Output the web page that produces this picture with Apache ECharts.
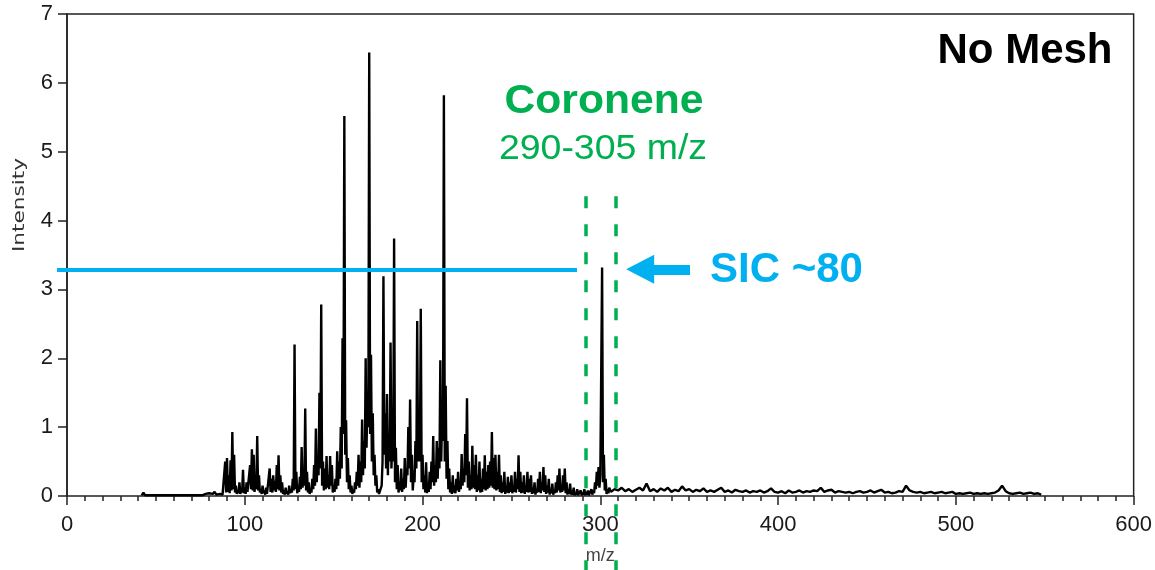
<!DOCTYPE html>
<html>
<head>
<meta charset="utf-8">
<title>Mass spectrum - No Mesh</title>
<script src="https://cdn.jsdelivr.net/npm/echarts@6/dist/echarts.min.js"></script>
<style>
  html, body { margin: 0; padding: 0; background: #fff; }
  #chart { width: 1155px; height: 570px; }
</style>
</head>
<body>
<div id="chart"></div>
<script>
// start of the trace, m/z 42-85 (almost flat)
var lowMz  = [42, 43, 44, 60, 76, 78, 79, 80, 81, 82, 83, 84, 85];
var lowInt = [0.01, 0.05, 0.01, 0.01, 0.01, 0.03, 0.04, 0.04, 0.02, 0.03, 0.06, 0.02, 0.03];

// main cluster, one value per unit mass from m/z 86 to 305
var clusterStart = 86;
var clusterInt = [
  0.03, 0.04, 0.02, 0.50, 0.55, 0.30, 0.52, 0.93, 0.60, 0.15,   // 86-95
  0.08, 0.20, 0.10, 0.38, 0.12, 0.20, 0.08, 0.45, 0.68, 0.60,   // 96-105
  0.25, 0.87, 0.30, 0.10, 0.15, 0.08, 0.12, 0.05, 0.40, 0.25,   // 106-115
  0.30, 0.22, 0.45, 0.59, 0.30, 0.20, 0.08, 0.12, 0.06, 0.15,   // 116-125
  0.10, 0.25, 2.20, 0.35, 0.15, 0.28, 0.71, 0.40, 1.27, 0.35,   // 126-135
  0.20, 0.10, 0.25, 0.45, 0.98, 0.60, 1.50, 2.78, 0.50, 0.40,   // 136-145
  0.58, 0.30, 0.58, 0.45, 0.15, 0.25, 0.65, 0.50, 1.00, 2.29,   // 146-155
  5.52, 1.10, 0.55, 0.30, 0.15, 0.08, 0.20, 0.35, 0.60, 0.50,   // 156-165
  1.11, 0.80, 2.00, 1.50, 6.44, 2.05, 1.20, 0.60, 0.30, 0.10,   // 166-175
  0.05, 0.15, 3.19, 1.20, 1.48, 0.90, 2.23, 0.80, 3.74, 0.70,   // 176-185
  0.45, 0.20, 0.40, 0.25, 0.55, 0.40, 1.00, 1.40, 0.60, 0.30,   // 186-195
  0.80, 2.54, 1.20, 2.72, 0.60, 0.30, 0.49, 0.20, 0.35, 0.50,   // 196-205
  0.87, 0.45, 0.80, 0.70, 1.97, 1.20, 5.82, 1.60, 0.80, 0.40,   // 206-215
  0.20, 0.30, 0.15, 0.25, 0.35, 0.20, 0.61, 0.40, 0.90, 1.42,   // 216-225
  0.50, 0.30, 0.73, 0.45, 0.60, 0.30, 0.50, 0.25, 0.40, 0.59,   // 226-235
  0.35, 0.45, 0.50, 0.93, 0.55, 0.60, 0.35, 0.60, 0.30, 0.20,   // 236-245
  0.35, 0.15, 0.28, 0.20, 0.30, 0.15, 0.35, 0.25, 0.59, 0.35,   // 246-255
  0.20, 0.30, 0.15, 0.35, 0.25, 0.30, 0.12, 0.20, 0.10, 0.25,   // 256-265
  0.35, 0.20, 0.42, 0.30, 0.15, 0.25, 0.10, 0.18, 0.08, 0.20,   // 266-275
  0.30, 0.40, 0.15, 0.30, 0.40, 0.20, 0.10, 0.18, 0.08, 0.12,   // 276-285
  0.05, 0.10, 0.04, 0.08, 0.05, 0.10, 0.06, 0.08, 0.04, 0.10,   // 286-295
  0.08, 0.20, 0.35, 0.42, 0.30, 3.32, 0.60, 0.25, 0.10, 0.12    // 296-305
];
// dips between unit masses, at m/z 86.5 to 304.5
var clusterValley = [
  0.02, 0.02, 0.02, 0.05, 0.06, 0.04, 0.08, 0.10, 0.05, 0.03,   // 86.5-95.5
  0.04, 0.03, 0.05, 0.04, 0.03, 0.06, 0.04, 0.10, 0.08, 0.06,   // 96.5-105.5
  0.10, 0.08, 0.05, 0.03, 0.04, 0.02, 0.03, 0.02, 0.06, 0.05,   // 106.5-115.5
  0.08, 0.06, 0.10, 0.08, 0.05, 0.03, 0.02, 0.03, 0.02, 0.04,   // 116.5-125.5
  0.05, 0.08, 0.10, 0.04, 0.06, 0.10, 0.12, 0.15, 0.08, 0.05,   // 126.5-135.5
  0.03, 0.05, 0.10, 0.15, 0.20, 0.30, 0.40, 0.15, 0.08, 0.10,   // 136.5-145.5
  0.12, 0.10, 0.15, 0.05, 0.06, 0.10, 0.15, 0.25, 0.40, 0.90,   // 146.5-155.5
  0.60, 0.20, 0.10, 0.05, 0.03, 0.05, 0.10, 0.15, 0.12, 0.20,   // 156.5-165.5
  0.30, 0.40, 0.70, 1.00, 0.90, 0.50, 0.30, 0.15, 0.05, 0.03,   // 166.5-175.5
  0.05, 0.50, 0.60, 0.40, 0.30, 0.50, 0.40, 0.50, 0.20, 0.10,   // 176.5-185.5
  0.05, 0.08, 0.06, 0.10, 0.12, 0.30, 0.40, 0.20, 0.08, 0.20,   // 186.5-195.5
  0.40, 0.50, 0.50, 0.20, 0.10, 0.05, 0.04, 0.06, 0.10, 0.20,   // 196.5-205.5
  0.15, 0.20, 0.25, 0.40, 0.50, 0.80, 0.50, 0.25, 0.10, 0.05,   // 206.5-215.5
  0.03, 0.05, 0.04, 0.08, 0.06, 0.10, 0.15, 0.20, 0.30, 0.12,   // 216.5-225.5
  0.08, 0.10, 0.12, 0.10, 0.06, 0.08, 0.05, 0.06, 0.10, 0.08,   // 226.5-235.5
  0.10, 0.12, 0.15, 0.12, 0.10, 0.08, 0.10, 0.06, 0.04, 0.06,   // 236.5-245.5
  0.03, 0.05, 0.04, 0.06, 0.04, 0.06, 0.05, 0.10, 0.06, 0.04,   // 246.5-255.5
  0.05, 0.03, 0.06, 0.05, 0.06, 0.03, 0.04, 0.02, 0.05, 0.06,   // 256.5-265.5
  0.04, 0.08, 0.06, 0.03, 0.05, 0.02, 0.04, 0.02, 0.04, 0.05,   // 266.5-275.5
  0.08, 0.05, 0.06, 0.08, 0.04, 0.02, 0.03, 0.02, 0.02, 0.01,   // 276.5-285.5
  0.02, 0.01, 0.02, 0.01, 0.02, 0.01, 0.02, 0.01, 0.02, 0.02,   // 286.5-295.5
  0.04, 0.10, 0.15, 0.12, 0.30, 0.20, 0.08, 0.03, 0.04          // 296.5-304.5
];

// high mass tail, every 2 units from m/z 306 to 548
var tailStart = 306;
var tailStep = 2;
var tailInt = [
  0.06, 0.10, 0.08, 0.12, 0.07, 0.10, 0.06, 0.09, 0.12, 0.08,
  0.18, 0.07, 0.10, 0.06, 0.11, 0.08, 0.12, 0.06, 0.09, 0.07,
  0.14, 0.08, 0.10, 0.06, 0.09, 0.07, 0.11, 0.06, 0.08, 0.06,
  0.09, 0.12, 0.06, 0.08, 0.05, 0.09, 0.07, 0.06, 0.08, 0.05,
  0.07, 0.06, 0.08, 0.05, 0.07, 0.11, 0.06, 0.05, 0.07, 0.04,
  0.08, 0.05, 0.06, 0.08, 0.05, 0.07, 0.06, 0.08, 0.07, 0.12,
  0.06, 0.08, 0.09, 0.05, 0.07, 0.06, 0.05, 0.06, 0.04, 0.06,
  0.07, 0.05, 0.06, 0.08, 0.05, 0.07, 0.09, 0.05, 0.06, 0.04,
  0.05, 0.07, 0.06, 0.15, 0.08, 0.06, 0.05, 0.06, 0.04, 0.05,
  0.06, 0.04, 0.05, 0.06, 0.04, 0.05, 0.06, 0.03, 0.04, 0.03,
  0.04, 0.05, 0.03, 0.04, 0.03, 0.04, 0.03, 0.04, 0.05, 0.08,
  0.15, 0.07, 0.04, 0.03, 0.04, 0.05, 0.03, 0.04, 0.05, 0.03,
  0.04, 0.02
];

// annotations (data units)
var sicLevel = 3.3;             // blue SIC line
var sicLineMz = [-5.6, 286.5];  // blue line runs a bit left of the axis
var arrowMz = [350, 322];       // arrow shaft, head sits at the end
var windowMz = [291.6, 308.4];  // green dashed window
var windowTop = 4.36;

// layout of the plot box in px
var W = 1155, H = 570;
var GL = 67, GR = 1135, GT = 14, GB = 497;
var X_MAX = 600, Y_MAX = 7;
var pxX = X_MAX / (GR - GL);
var pxY = Y_MAX / (GB - GT);
var ovXMin = -GL * pxX, ovXMax = X_MAX + (W - GR) * pxX;
var ovYMin = -(H - GB) * pxY, ovYMax = Y_MAX + GT * pxY;

var spectrum = [];
lowMz.forEach(function (m, i) { spectrum.push([m, lowInt[i]]); });
clusterInt.forEach(function (v, i) {
  spectrum.push([clusterStart + i, v]);
  if (i < clusterValley.length) spectrum.push([clusterStart + i + 0.5, clusterValley[i]]);
});
tailInt.forEach(function (v, i) { spectrum.push([tailStart + i * tailStep, v]); });

var green = '#00b050';
var blue = '#00b0f0';
var tickFont = 'Liberation Sans';

var chart = echarts.init(document.getElementById('chart'), null, { renderer: 'canvas' });

var option = {
  animation: false,
  backgroundColor: '#fff',
  grid: [
    { left: GL, right: W - GR, top: GT, bottom: H - GB, show: true,
      borderColor: '#222', borderWidth: 1.5, backgroundColor: 'transparent' },
    { left: 0, right: 0, top: 0, bottom: 0 }
  ],
  xAxis: [
    {
      type: 'value', gridIndex: 0, min: 0, max: X_MAX, interval: 100, offset: 5,
      name: 'm/z', nameLocation: 'middle', nameGap: 46,
      nameTextStyle: { fontFamily: tickFont, fontSize: 18, color: '#444' },
      axisLine: { show: false },
      axisTick: { show: true, length: 9, lineStyle: { color: '#222', width: 1.5 } },
      minorTick: { show: true, splitNumber: 10, length: 5, lineStyle: { color: '#222', width: 1.5 } },
      splitLine: { show: false },
      minorSplitLine: { show: false },
      axisLabel: { margin: 13, fontFamily: tickFont, fontSize: 22, color: '#1a1a1a',
                   showMinLabel: true, showMaxLabel: true }
    },
    { type: 'value', gridIndex: 1, min: ovXMin, max: ovXMax, show: false }
  ],
  yAxis: [
    {
      type: 'value', gridIndex: 0, min: 0, max: Y_MAX, interval: 1,
      axisLine: { show: true, lineStyle: { color: '#222', width: 1.5 } },
      axisTick: { show: true, length: 9, lineStyle: { color: '#222', width: 1.5 } },
      splitLine: { show: false },
      axisLabel: { margin: 14, fontFamily: tickFont, fontSize: 22, color: '#1a1a1a' }
    },
    { type: 'value', gridIndex: 1, min: ovYMin, max: ovYMax, show: false }
  ],
  series: [
    {
      name: 'Intensity', type: 'line', xAxisIndex: 0, yAxisIndex: 0,
      data: spectrum, symbol: 'none', clip: true, silent: true,
      lineStyle: { color: '#000', width: 2.4 }
    },
    {
      name: 'annotations', type: 'line', xAxisIndex: 1, yAxisIndex: 1,
      data: [], symbol: 'none', silent: true,
      markLine: {
        silent: true, animation: false, symbol: 'none',
        label: { show: false },
        data: [
          [{ coord: [windowMz[0], windowTop], lineStyle: { color: green, width: 3.5, type: [12, 16] } },
           { coord: [windowMz[0], ovYMin] }],
          [{ coord: [windowMz[1], windowTop], lineStyle: { color: green, width: 3.5, type: [12, 16] } },
           { coord: [windowMz[1], ovYMin] }],
          [{ coord: [sicLineMz[0], sicLevel], lineStyle: { color: blue, width: 4, type: 'solid' } },
           { coord: [sicLineMz[1], sicLevel] }],
          [{ coord: [arrowMz[0], sicLevel], symbol: 'none',
             lineStyle: { color: blue, width: 10, type: 'solid' } },
           { coord: [arrowMz[1], sicLevel], symbol: 'triangle', symbolSize: [29, 28],
             itemStyle: { color: blue } }]
        ]
      }
    }
  ],
  graphic: [
    { type: 'text', x: 1025, y: 51, silent: true,
      style: { text: 'No Mesh', font: 'bold 42px "Liberation Sans", Arial, sans-serif', fill: '#000',
               textAlign: 'center', textVerticalAlign: 'middle', align: 'center', verticalAlign: 'middle' } },
    { type: 'text', x: 604, y: 102, scaleX: 1.04, silent: true,
      style: { text: 'Coronene', font: 'bold 41px "Liberation Sans", Arial, sans-serif', fill: green,
               textAlign: 'center', textVerticalAlign: 'middle', align: 'center', verticalAlign: 'middle' } },
    { type: 'text', x: 603, y: 149, scaleX: 1.07, silent: true,
      style: { text: '290-305 m/z', font: '35px "Liberation Sans", Arial, sans-serif', fill: green,
               textAlign: 'center', textVerticalAlign: 'middle', align: 'center', verticalAlign: 'middle' } },
    { type: 'text', x: 710, y: 270, silent: true,
      style: { text: 'SIC ~80', font: 'bold 42px "Liberation Sans", Arial, sans-serif', fill: blue,
               textAlign: 'left', textVerticalAlign: 'middle', align: 'left', verticalAlign: 'middle' } },
    { type: 'text', x: 20, y: 205, rotation: Math.PI / 2, scaleX: 1.35, silent: true,
      style: { text: 'Intensity', font: '16px "DejaVu Sans", sans-serif', fill: '#333',
               textAlign: 'center', textVerticalAlign: 'middle', align: 'center', verticalAlign: 'middle' } }
  ]
};

chart.setOption(option);
window.onresize = chart.resize;
</script>
</body>
</html>
